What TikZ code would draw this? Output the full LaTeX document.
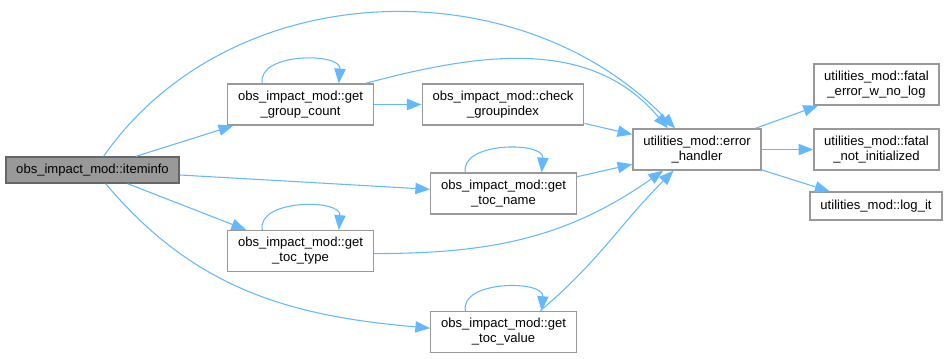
\documentclass[tikz,border=0pt]{standalone}
\usepackage{fontspec}
\setmainfont{Liberation Sans}
\usetikzlibrary{arrows.meta}
\definecolor{edgeblue}{HTML}{63B8FF}
\definecolor{boxgray}{HTML}{999999}
\definecolor{rootgray}{HTML}{666666}

\begin{document}
\begin{tikzpicture}[x=0.75pt,y=-0.75pt,
		fn/.style={draw=boxgray,fill=white,line width=1pt,align=center,inner xsep=7.75pt,inner ysep=5.2pt,font=\fontsize{9.8pt}{11.25pt}\selectfont},
		root/.style={fn,draw=rootgray,fill=boxgray},
		call/.style={color=edgeblue,line width=0.8pt,-{Stealth[inset=0pt,length=11pt,width=8.5pt]}}]
	\useasboundingbox (0,0) rectangle (948,358);
	% callers on the left, utilities on the right
	\node[root] (iteminfo) at (92.5,170) {obs\_impact\_mod::iteminfo};
	\node[fn] (gcount) at (300.5,104.5) {obs\_impact\_mod::get\\\_group\_count};
	\node[fn] (toctype) at (300.5,251) {obs\_impact\_mod::get\\\_toc\_type};
	\node[fn] (checkgi) at (503,104.5) {obs\_impact\_mod::check\\\_groupindex};
	\node[fn] (tocname) at (503.5,193.5) {obs\_impact\_mod::get\\\_toc\_name};
	\node[fn] (tocvalue) at (503.5,332) {obs\_impact\_mod::get\\\_toc\_value};
	\node[fn] (errh) at (697,149.5) {utilities\_mod::error\\\_handler};
	\node[fn] (fatalnolog) at (876.5,84.5) {utilities\_mod::fatal\\\_error\_w\_no\_log};
	\node[fn] (fatalinit) at (876.5,149.5) {utilities\_mod::fatal\\\_not\_initialized};
	\node[fn,minimum height=21pt] (logit) at (876,206) {utilities\_mod::log\_it};

	\path[call]
	(iteminfo) edge (gcount)
	(iteminfo) edge (tocname)
	(iteminfo) edge (toctype)
	(iteminfo.51) edge[out=55,in=134] (errh.136)
	(iteminfo.-46) edge[out=-50,in=175] (tocvalue.177)
	(gcount) edge (checkgi)
	(gcount.18) edge[out=15,in=130] (errh.144)
	(checkgi) edge (errh)
	(tocname) edge (errh)
	(toctype.-2) edge[out=0,in=215] (errh.212)
	(tocvalue.30) edge[out=40,in=225] (errh.222)
	(errh) edge (fatalnolog)
	(errh) edge (fatalinit)
	(errh) edge (logit)
	% recursive calls
	(gcount.151) edge[out=100,in=85,looseness=1.05] (gcount.29)
	(tocname.151) edge[out=100,in=85,looseness=1.05] (tocname.29)
	(toctype.151) edge[out=100,in=85,looseness=1.05] (toctype.29)
	(tocvalue.151) edge[out=100,in=85,looseness=1.05] (tocvalue.29);
\end{tikzpicture}
\end{document}
